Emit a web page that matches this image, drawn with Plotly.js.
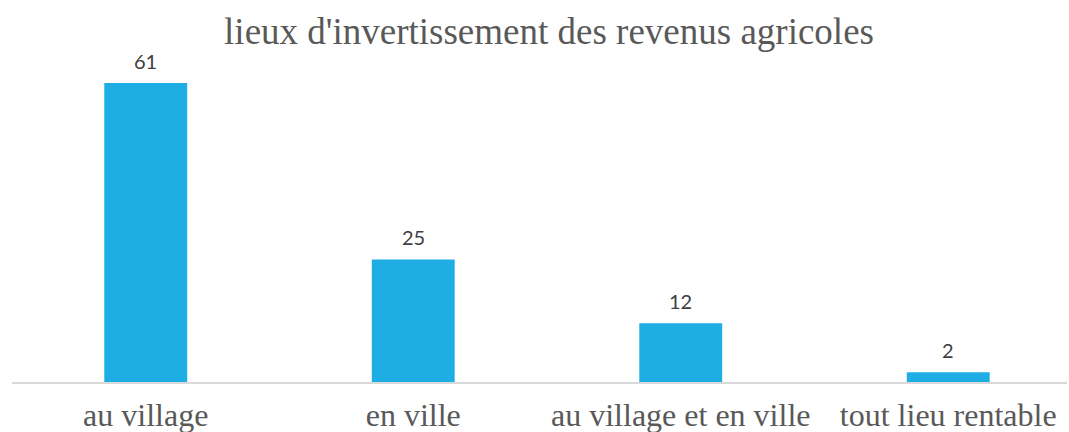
<!DOCTYPE html>
<html>
<head>
<meta charset="utf-8">
<script src="https://cdn.plot.ly/plotly-3.0.1.min.js"></script>
<style>html,body{margin:0;padding:0;background:#fff;}#chart{width:1069px;height:432px;}</style>
</head>
<body>
<div id="chart"></div>
<script>
const categories = ["au village", "en ville", "au village et en ville", "tout lieu rentable"];
const values = [61, 25, 12, 2];
const chartTitle = "lieux d'invertissement des revenus agricoles";

const trace = {
  type: 'bar',
  x: categories,
  y: values,
  width: 0.31,
  marker: {color: '#1FAEE3'},
  hoverinfo: 'x+y'
};

const annotations = categories.map((c, i) => ({
  x: c, y: values[i], xref: 'x', yref: 'y',
  text: String(values[i]), showarrow: false,
  yanchor: 'middle', yshift: 22,
  font: {family: 'Lato, "DejaVu Sans", sans-serif', size: 20, color: '#404040'}
}));

const layout = {
  width: 1069, height: 432,
  margin: {l: 12, r: 2, t: 60, b: 50},
  paper_bgcolor: '#ffffff', plot_bgcolor: '#ffffff',
  title: {
    text: chartTitle,
    font: {family: '"Liberation Serif", "Times New Roman", serif', size: 37, color: '#595959'},
    x: 0.5136, xanchor: 'center', y: 0.928, yanchor: 'middle', yref: 'container'
  },
  xaxis: {
    type: 'category',
    range: [-0.5, 3.444],
    showgrid: false, zeroline: false,
    showline: true, linecolor: '#d9d9d9', linewidth: 2,
    ticks: '', ticklabelstandoff: 4,
    tickfont: {family: '"Liberation Serif", "Times New Roman", serif', size: 32, color: '#595959'}
  },
  yaxis: {
    range: [0, 65.7],
    visible: false, showgrid: false, zeroline: false
  },
  showlegend: false,
  annotations: annotations
};

Plotly.newPlot('chart', [trace], layout, {displayModeBar: false, staticPlot: true});
</script>
</body>
</html>
